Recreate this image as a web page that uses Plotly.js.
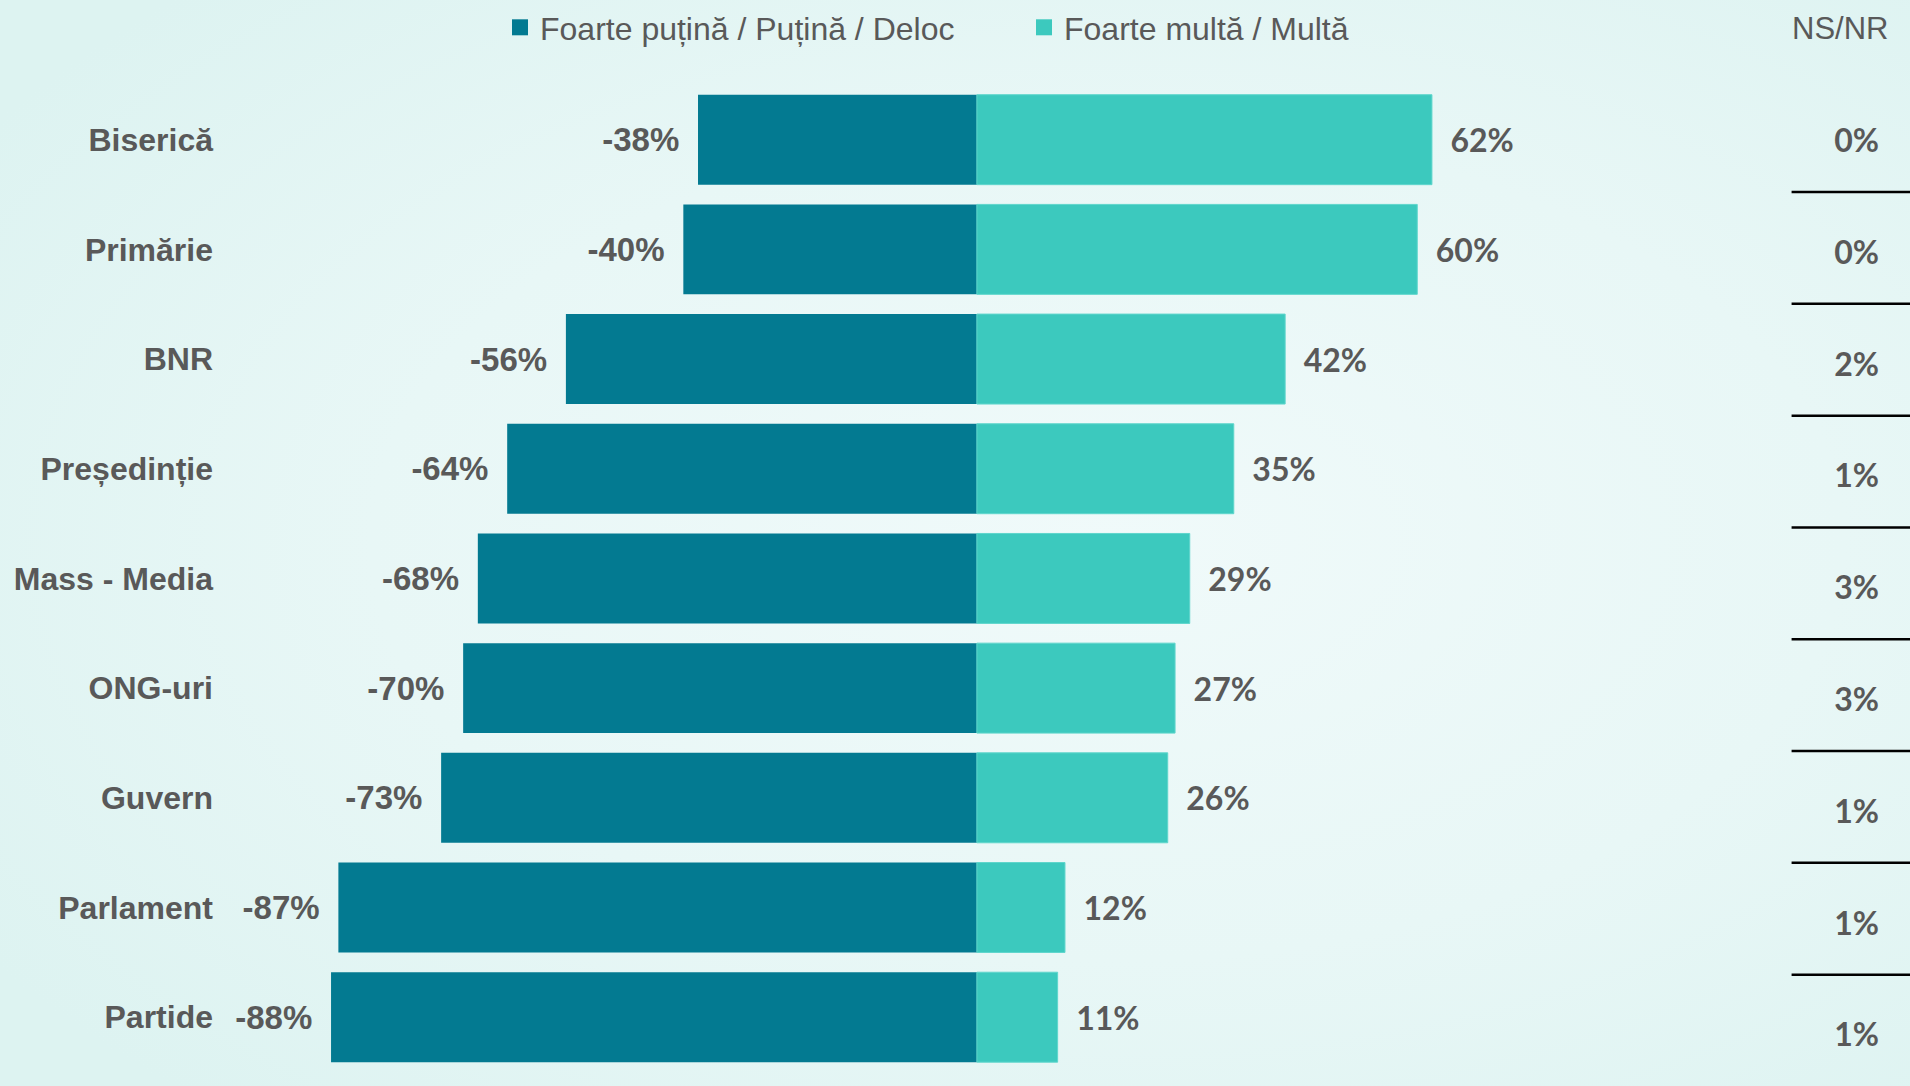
<!DOCTYPE html>
<html>
<head>
<meta charset="utf-8">
<script src="https://cdn.plot.ly/plotly-3.0.1.min.js"></script>
<style>
  html, body { margin:0; padding:0; width:1910px; height:1086px; overflow:hidden;
    background: radial-gradient(ellipse 70% 70% at 58% 50%, #f0fafa 0%, #e8f7f6 55%, #ddf3f1 100%); }
  #chart { width:1910px; height:1086px; }
</style>
</head>
<body>
<div id="chart"></div>
<script>
const categories = ["Biserică", "Primărie", "BNR", "Președinție", "Mass - Media", "ONG-uri", "Guvern", "Parlament", "Partide"];
const distrust = [38, 40, 56, 64, 68, 70, 73, 87, 88];   // Foarte puțină / Puțină / Deloc
const trust = [62, 60, 42, 35, 29, 27, 26, 12, 11];      // Foarte multă / Multă
const nsnr = [0, 0, 2, 1, 3, 3, 1, 1, 1];                 // NS/NR
const seriesNames = ["Foarte puțină / Puțină / Deloc", "Foarte multă / Multă"];
const nsnrTitle = "NS/NR";

const NB = "\u00a0";
const TS = "\u2009";
const sans = "Liberation Sans, Arial, sans-serif";
const calib = "Lato, Carlito, Calibri, sans-serif";
const grey = "#595959";
const dark = "#037A91";
const light = "#3CC9BE";

const traces = [
  {
    type: "bar", orientation: "h", name: seriesNames[0], showlegend: false,
    y: categories, x: distrust.map(v => -v),
    text: distrust.map(v => "-" + v + "%" + NB + TS),
    textposition: "outside", cliponaxis: false, constraintext: "none",
    textfont: { family: sans, size: 33, color: grey, weight: 700 },
    marker: { color: dark, line: { width: 0 } },
    hoverinfo: "skip", xaxis: "x", yaxis: "y"
  },
  {
    type: "bar", orientation: "h", name: seriesNames[1], showlegend: false,
    y: categories, x: trust,
    text: trust.map(v => NB + NB + v + "%"),
    textposition: "outside", cliponaxis: false, constraintext: "none",
    textfont: { family: calib, size: 32, color: grey, weight: 700 },
    marker: { color: light, line: { width: 1, color: "#5fd6cc" } },
    hoverinfo: "skip", xaxis: "x", yaxis: "y"
  },
  // legend-only entries (larger square swatches)
  {
    type: "scatter", mode: "markers", name: seriesNames[0], x: [null], y: [null],
    marker: { symbol: "square", size: 16, color: dark }, xaxis: "x", yaxis: "y", hoverinfo: "skip"
  },
  {
    type: "scatter", mode: "markers", name: seriesNames[1], x: [null], y: [null],
    marker: { symbol: "square", size: 16, color: light }, xaxis: "x", yaxis: "y", hoverinfo: "skip"
  },
  {
    type: "scatter", mode: "text", showlegend: false,
    x: nsnr.map(() => 0.55), y: nsnr.map((v, i) => i),
    text: nsnr.map(v => v + "%"),
    textposition: "middle center", cliponaxis: false,
    textfont: { family: calib, size: 32, color: grey, weight: 700 },
    hoverinfo: "skip", xaxis: "x2", yaxis: "y2"
  }
];

const shapes = nsnr.slice(0, -1).map((v, i) => ({
  type: "line", xref: "x2 domain", yref: "y2",
  x0: 0, x1: 1, y0: i + 0.43, y1: i + 0.43,
  line: { color: "#000000", width: 2.5 }
}));

const layout = {
  width: 1910, height: 1086,
  margin: { l: 0, r: 0, t: 0, b: 0, pad: 0 },
  paper_bgcolor: "rgba(0,0,0,0)", plot_bgcolor: "rgba(0,0,0,0)",
  barmode: "overlay", bargap: 0.18,
  showlegend: true,
  legend: {
    orientation: "h", x: 500/1910, y: 1 - 25.5/1086, xanchor: "left", yanchor: "middle",
    font: { family: sans, size: 32, color: grey },
    entrywidth: 479, entrywidthmode: "pixels", traceorder: "normal",
    bgcolor: "rgba(0,0,0,0)", itemclick: false
  },
  xaxis: {
    domain: [220/1910, 1760/1910], range: [-103.13, 106.7],
    showgrid: false, zeroline: false, showticklabels: false, ticks: "", showline: false, fixedrange: true
  },
  yaxis: {
    domain: [14/1086, 1003/1086], autorange: "reversed", type: "category",
    showgrid: false, zeroline: false, showline: false, ticks: "",
    tickfont: { family: sans, size: 32, color: grey, weight: 700 },
    ticklabelstandoff: 6, automargin: false, fixedrange: true
  },
  xaxis2: {
    domain: [0.938, 1], range: [0, 1], anchor: "y2",
    showgrid: false, zeroline: false, showticklabels: false, ticks: "", showline: false, fixedrange: true
  },
  yaxis2: {
    domain: [13/1086, 1002/1086], range: [8.31, -0.52], anchor: "x2",
    showgrid: false, zeroline: false, showticklabels: false, ticks: "", showline: false, fixedrange: true
  },
  shapes: shapes,
  annotations: [{
    text: nsnrTitle, xref: "paper", yref: "paper", x: 1840/1910, y: 1 - 27/1086,
    xanchor: "center", yanchor: "middle", showarrow: false,
    font: { family: sans, size: 31, color: grey }
  }]
};

Plotly.newPlot("chart", traces, layout, { displayModeBar: false, staticPlot: true });
</script>
</body>
</html>
